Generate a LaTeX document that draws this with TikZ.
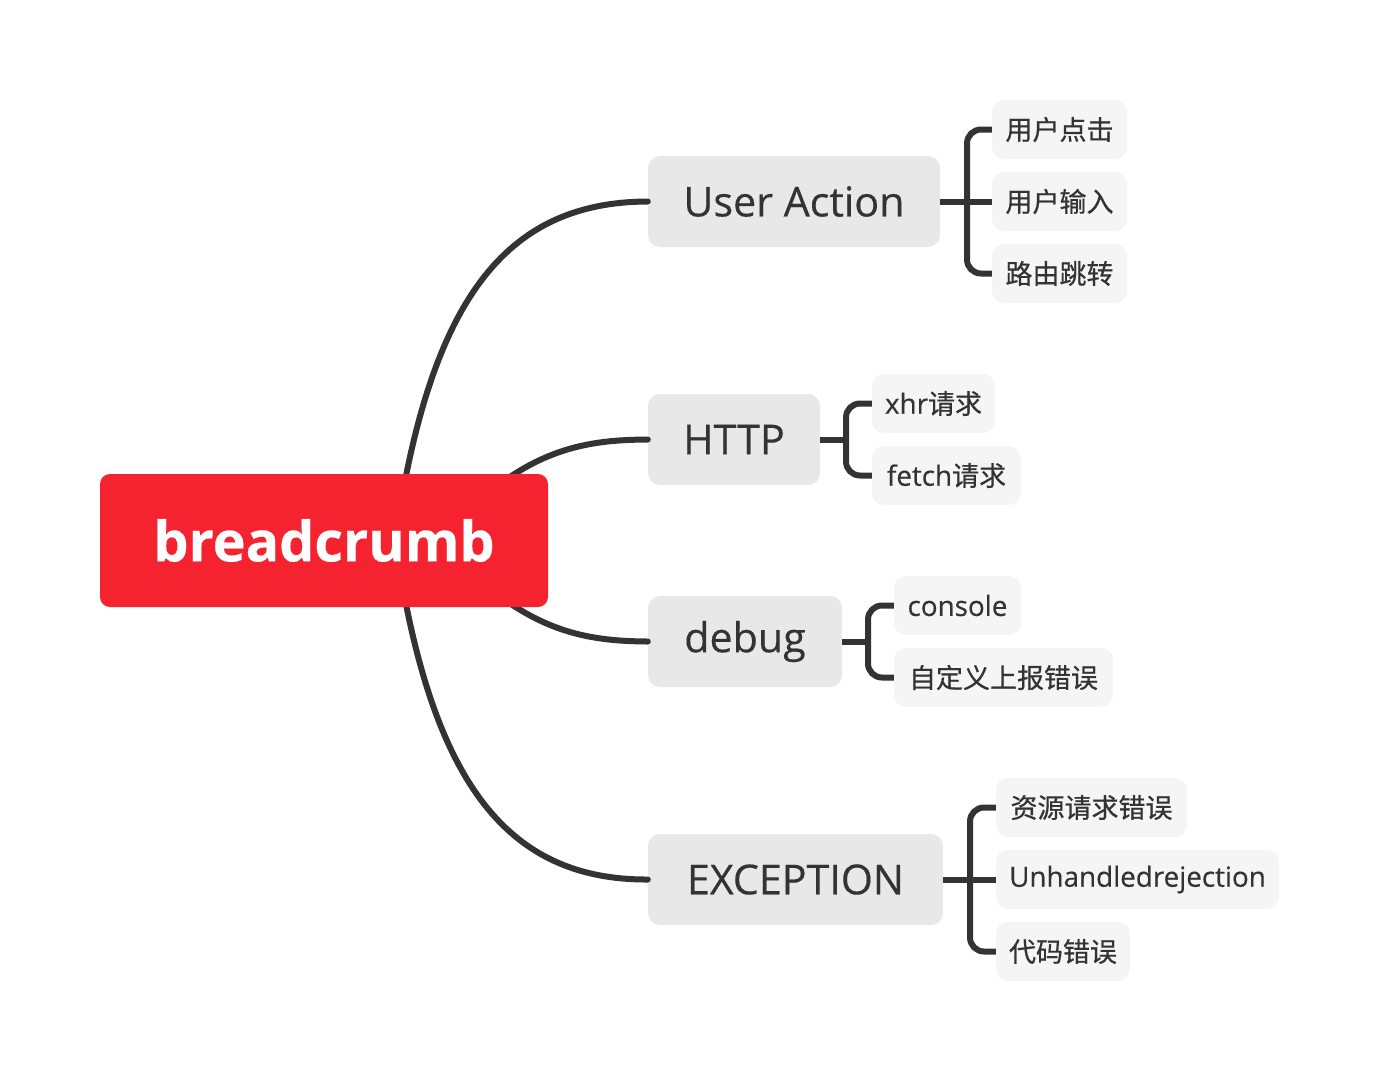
\documentclass[tikz,border=0pt]{standalone}
\usepackage{fontspec}
\setmainfont{Open Sans}[Scale=1.03, FakeBold=0.4]
\newfontfamily\cjk{Noto Sans CJK SC}[FakeBold=0.6]
\definecolor{linec}{HTML}{333333}
\definecolor{rootc}{HTML}{F5222F}
\definecolor{mainc}{HTML}{E8E8E8}
\definecolor{subc}{HTML}{F5F5F5}
\tikzset{
  conn/.style={draw=linec, line width=6pt, line cap=round},
  brk/.style={draw=linec, line width=6pt, rounded corners=14pt},
  rootbox/.style={fill=rootc, rounded corners=10pt, minimum height=133pt, text=white, font=\fontsize{54}{58}\selectfont\bfseries, inner sep=0pt},
  mainbox/.style={fill=mainc, rounded corners=12pt, minimum height=91pt, text=linec, font=\fontsize{40}{44}\selectfont, inner sep=0pt},
  subbox/.style={fill=subc, rounded corners=12pt, minimum height=59pt, text=linec, font=\fontsize{27}{30}\selectfont, inner sep=0pt},
}
\begin{document}
\begin{tikzpicture}[x=1pt,y=-1pt]
\useasboundingbox (0,0) rectangle (1380,1082);
% connectors from root (drawn first, behind)
\coordinate (r1) at (395,540);
\coordinate (r2) at (440,540);
\node[mainbox, minimum width=292pt] (ua) at (794,201.5) {User Action};
\node[mainbox, minimum width=172pt] (http) at (734,439.5) {HTTP};
\node[mainbox, minimum width=194pt] (dbg) at (745,641.5) {debug};
\node[mainbox, minimum width=295pt] (exc) at (795.5,879.5) {EXCEPTION};
\draw[conn] (r1) .. controls (430,300) and (505,202) .. (ua.west);
\draw[conn] (r2) .. controls (520,450) and (580,440) .. (http.west);
\draw[conn] (r2) .. controls (520,630) and (580,641) .. (dbg.west);
\draw[conn] (r1) .. controls (430,780) and (505,880) .. (exc.west);
\node[rootbox, minimum width=448pt] (root) at (324,540.5) {breadcrumb};
% sub nodes
\node[subbox, minimum width=135pt] (s1) at (1059.5,129.5) {\cjk 用户点击};
\node[subbox, minimum width=135pt] (s2) at (1059.5,201.5) {\cjk 用户输入};
\node[subbox, minimum width=135pt] (s3) at (1059.5,273.5) {\cjk 路由跳转};
\node[subbox, minimum width=123pt] (h1) at (933.5,403.5) {xhr{\cjk 请求}};
\node[subbox, minimum width=149pt] (h2) at (946.5,475.5) {fetch{\cjk 请求}};
\node[subbox, minimum width=127pt] (d1) at (957.5,605.5) {console};
\node[subbox, minimum width=219pt] (d2) at (1003.5,677.5) {\cjk 自定义上报错误};
\node[subbox, minimum width=191pt] (e1) at (1091.5,807.5) {\cjk 资源请求错误};
\node[subbox, minimum width=283pt] (e2) at (1137.5,879.5) {Unhandledrejection};
\node[subbox, minimum width=134pt] (e3) at (1063,951.5) {\cjk 代码错误};
% brackets
\coordinate (ua-j) at (967,201.5);
\draw[conn, line cap=butt] (ua.east) -- (s2.west);
\draw[brk] (s1.west) -| (ua-j) |- (s3.west);
\coordinate (http-j) at (846,439.5);
\draw[conn, line cap=butt] (http.east) -- (http-j);
\draw[brk] (h1.west) -| (http-j) |- (h2.west);
\coordinate (dbg-j) at (868,641.5);
\draw[conn, line cap=butt] (dbg.east) -- (dbg-j);
\draw[brk] (d1.west) -| (dbg-j) |- (d2.west);
\coordinate (exc-j) at (970,879.5);
\draw[conn, line cap=butt] (exc.east) -- (e2.west);
\draw[brk] (e1.west) -| (exc-j) |- (e3.west);
\end{tikzpicture}
\end{document}
